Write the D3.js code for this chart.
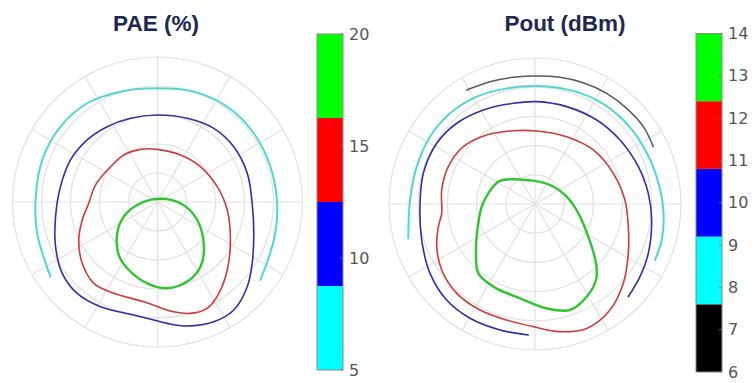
<!DOCTYPE html>
<html>
<head>
<meta charset="utf-8">
<script src="https://cdn.jsdelivr.net/npm/d3@7"></script>
<style>
  html, body { margin: 0; padding: 0; background: #fff; }
  svg { display: block; }
</style>
</head>
<body>
<svg id="chart" width="753" height="383"></svg>
<script>
// contour points, normalised reflection plane (x right, y up, unit circle = outer ring)
const paeGreen = [[-0.014,0.021],[0.159,-0.009],[0.274,-0.124],[0.320,-0.308],[0.297,-0.445],[0.205,-0.549],[0.067,-0.595],[-0.071,-0.561],[-0.198,-0.469],[-0.267,-0.366],[-0.278,-0.216],[-0.233,-0.101],[-0.140,-0.021]];
const paeRed = [[-0.117,0.363],[-0.002,0.363],[0.159,0.324],[0.297,0.243],[0.412,0.106],[0.481,-0.055],[0.503,-0.262],[0.481,-0.469],[0.423,-0.630],[0.343,-0.733],[0.228,-0.768],[0.112,-0.757],[-0.094,-0.688],[-0.301,-0.630],[-0.439,-0.561],[-0.519,-0.423],[-0.543,-0.262],[-0.519,-0.124],[-0.474,-0.009],[-0.428,0.117],[-0.324,0.243],[-0.232,0.324]];
const paeBlue = [[-0.002,0.600],[0.205,0.577],[0.388,0.508],[0.526,0.381],[0.619,0.198],[0.653,-0.009],[0.664,-0.216],[0.653,-0.423],[0.619,-0.584],[0.526,-0.745],[0.388,-0.826],[0.205,-0.855],[0.067,-0.837],[-0.163,-0.779],[-0.393,-0.722],[-0.554,-0.630],[-0.657,-0.492],[-0.703,-0.308],[-0.703,-0.101],[-0.669,0.106],[-0.600,0.290],[-0.485,0.428],[-0.347,0.519],[-0.186,0.577]];
const paeCyan = [[-0.738,-0.515],[-0.830,-0.216],[-0.841,0.014],[-0.795,0.290],[-0.669,0.519],[-0.485,0.681],[-0.255,0.761],[-0.002,0.784],[0.250,0.761],[0.481,0.657],[0.664,0.474],[0.779,0.243],[0.826,-0.032],[0.802,-0.262],[0.710,-0.538]];

const poutGreen = [[-0.240,0.158],[-0.034,0.162],[0.103,0.130],[0.217,0.050],[0.297,-0.064],[0.365,-0.224],[0.418,-0.406],[0.418,-0.521],[0.354,-0.635],[0.240,-0.726],[0.080,-0.715],[-0.103,-0.646],[-0.285,-0.566],[-0.388,-0.475],[-0.404,-0.338],[-0.395,-0.178],[-0.365,-0.018],[-0.320,0.073]];
const poutRed = [[0.011,0.500],[0.217,0.461],[0.400,0.370],[0.536,0.210],[0.616,0.027],[0.639,-0.155],[0.639,-0.338],[0.605,-0.543],[0.514,-0.726],[0.354,-0.852],[0.171,-0.874],[-0.012,-0.840],[-0.194,-0.795],[-0.377,-0.726],[-0.536,-0.612],[-0.639,-0.452],[-0.673,-0.292],[-0.662,-0.155],[-0.639,-0.064],[-0.639,0.096],[-0.594,0.256],[-0.491,0.393],[-0.331,0.473],[-0.149,0.502]];
const poutBlue = [[-0.046,-0.897],[-0.240,-0.863],[-0.445,-0.783],[-0.605,-0.658],[-0.719,-0.475],[-0.776,-0.247],[-0.788,-0.018],[-0.765,0.210],[-0.673,0.416],[-0.536,0.553],[-0.354,0.644],[-0.149,0.690],[0.011,0.701],[0.217,0.667],[0.423,0.575],[0.582,0.438],[0.708,0.256],[0.776,0.073],[0.799,-0.110],[0.776,-0.338],[0.719,-0.498],[0.639,-0.635]];
const poutCyan = [[-0.868,-0.235],[-0.856,0.027],[-0.810,0.256],[-0.719,0.461],[-0.582,0.621],[-0.399,0.735],[-0.194,0.792],[0.011,0.808],[0.217,0.785],[0.423,0.712],[0.605,0.575],[0.742,0.393],[0.833,0.187],[0.879,-0.041],[0.868,-0.247],[0.822,-0.384]];
const poutBlack = [[-0.468,0.781],[-0.308,0.838],[-0.149,0.868],[0.011,0.877],[0.171,0.868],[0.331,0.831],[0.491,0.758],[0.628,0.655],[0.742,0.530],[0.810,0.393]];

// colour bars
const paeBands = [5, 8.75, 12.5, 16.25, 20];
const paeBandColors = ["#00ffff", "#0000ff", "#ff0000", "#00ff00"];
const paeTicks = [5, 10, 15, 20];
const poutBands = [6, 7.6, 9.2, 10.8, 12.4, 14];
const poutBandColors = ["#000000", "#00ffff", "#0000ff", "#ff0000", "#00ff00"];
const poutTicks = [6, 7, 8, 9, 10, 11, 12, 13, 14];

const gridRadii = [0.2, 0.4, 0.6, 0.8, 1.0];
const spokeAngles = d3.range(0, 360, 30);

const lineStyle = {
  green: { stroke: "#2ec52e", width: 2.4 },
  red:   { stroke: "#d23a3a", width: 1.6 },
  blue:  { stroke: "#2f2fa8", width: 1.6 },
  cyan:  { stroke: "#4fd6d6", width: 2.0 },
  black: { stroke: "#5a5a5a", width: 1.5 }
};

const svg = d3.select("#chart");

function drawPolar(cx, cy, R, title, titleX, contours) {
  const x = d3.scaleLinear().domain([-1, 1]).range([cx - R, cx + R]);
  const y = d3.scaleLinear().domain([-1, 1]).range([cy + R, cy - R]);
  const g = svg.append("g");

  g.selectAll("circle.grid")
    .data(gridRadii)
    .join("circle")
    .attr("class", "grid")
    .attr("cx", x(0)).attr("cy", y(0))
    .attr("r", d => x(d) - x(0))
    .attr("fill", "none")
    .attr("stroke", "#e2e2e2")
    .attr("stroke-width", 1.2);

  g.selectAll("line.spoke")
    .data(spokeAngles)
    .join("line")
    .attr("class", "spoke")
    .attr("x1", x(0)).attr("y1", y(0))
    .attr("x2", d => x(Math.cos(d * Math.PI / 180)))
    .attr("y2", d => y(Math.sin(d * Math.PI / 180)))
    .attr("stroke", "#e2e2e2")
    .attr("stroke-width", 1.2);

  contours.forEach(c => {
    const line = d3.line()
      .x(d => x(d[0]))
      .y(d => y(d[1]))
      .curve(c.closed ? d3.curveCatmullRomClosed.alpha(0.5) : d3.curveCatmullRom.alpha(0.5));
    g.append("path")
      .attr("d", line(c.pts))
      .attr("fill", "none")
      .attr("stroke", lineStyle[c.style].stroke)
      .attr("stroke-width", lineStyle[c.style].width)
      .attr("stroke-linecap", "round");
  });

  svg.append("text")
    .attr("x", titleX)
    .attr("y", 31)
    .attr("text-anchor", "middle")
    .style("font-family", "'Liberation Sans', Arial, sans-serif")
    .style("font-weight", "bold")
    .style("font-size", "22.5px")
    .style("fill", "#1b2850")
    .text(title);
}

function drawColorbar(x0, top, bottom, bands, colors, ticks) {
  const w = 26;
  const s = d3.scaleLinear()
    .domain([bands[0], bands[bands.length - 1]])
    .range([bottom, top]);
  const g = svg.append("g");

  g.selectAll("rect.band")
    .data(colors)
    .join("rect")
    .attr("class", "band")
    .attr("x", x0)
    .attr("y", (d, i) => s(bands[i + 1]))
    .attr("width", w)
    .attr("height", (d, i) => s(bands[i]) - s(bands[i + 1]))
    .attr("fill", d => d);

  g.append("rect")
    .attr("x", x0).attr("y", top)
    .attr("width", w).attr("height", bottom - top)
    .attr("fill", "none")
    .attr("stroke", "#8a8a8a")
    .attr("stroke-width", 1);

  const axis = d3.axisRight(s)
    .tickValues(ticks)
    .tickSize(0)
    .tickPadding(6)
    .tickFormat(d3.format("d"));

  const ag = g.append("g")
    .attr("transform", `translate(${x0 + w},0)`)
    .call(axis);
  ag.select(".domain").remove();
  ag.selectAll("text")
    .style("font-family", "'DejaVu Sans', sans-serif")
    .style("font-size", "16px")
    .style("fill", "#555");

  // small inner tick marks on the bar's right edge
  g.selectAll("line.tk")
    .data(ticks)
    .join("line")
    .attr("class", "tk")
    .attr("x1", x0 + w - 3).attr("x2", x0 + w)
    .attr("y1", d => s(d)).attr("y2", d => s(d))
    .attr("stroke", "#777")
    .attr("stroke-width", 0.8);
}

drawPolar(157.5, 202, 145, "PAE (%)", 156, [
  { pts: paeCyan, style: "cyan", closed: false },
  { pts: paeBlue, style: "blue", closed: true },
  { pts: paeRed, style: "red", closed: true },
  { pts: paeGreen, style: "green", closed: true }
]);

drawPolar(535, 204, 146, "Pout (dBm)", 565, [
  { pts: poutBlack, style: "black", closed: false },
  { pts: poutCyan, style: "cyan", closed: false },
  { pts: poutBlue, style: "blue", closed: false },
  { pts: poutRed, style: "red", closed: true },
  { pts: poutGreen, style: "green", closed: true }
]);

drawColorbar(317, 34, 370, paeBands, paeBandColors, paeTicks);
drawColorbar(696, 33.5, 372, poutBands, poutBandColors, poutTicks);
</script>
</body>
</html>
